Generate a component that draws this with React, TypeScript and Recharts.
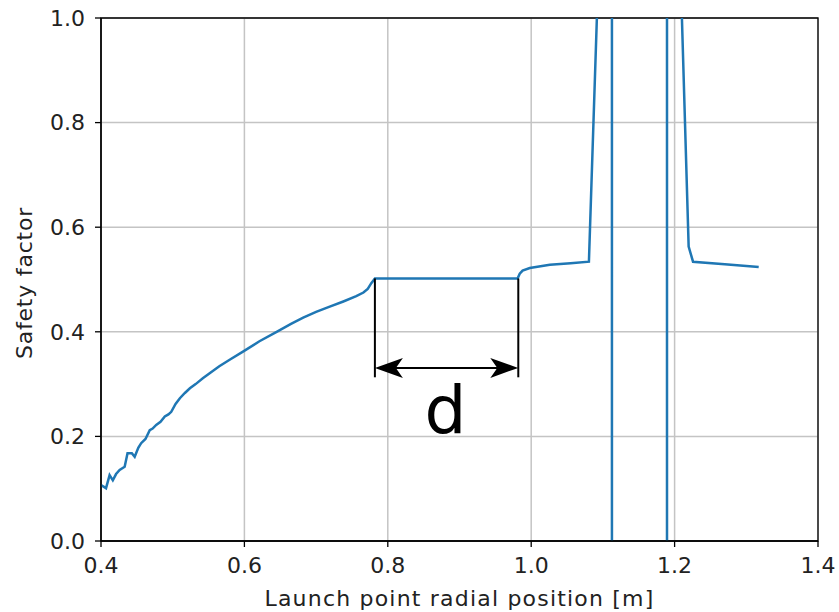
import React from "react";
import {
  LineChart,
  Line,
  XAxis,
  YAxis,
  CartesianGrid,
  ReferenceLine,
  ReferenceArea,
  ReferenceDot,
} from "recharts";

const radialPos = [
  0.4, 0.407, 0.412, 0.4165, 0.421, 0.426, 0.433, 0.437, 0.443, 0.447, 0.452, 0.456, 0.462, 0.468, 0.472,
  0.477, 0.483, 0.489, 0.494, 0.498, 0.504, 0.51, 0.517, 0.524, 0.532, 0.542, 0.553, 0.565, 0.58, 0.598,
  0.621, 0.645, 0.665, 0.682, 0.7, 0.719, 0.738, 0.756, 0.766, 0.772, 0.777, 0.782, 0.981, 0.984, 0.988,
  0.998, 1.026, 1.055, 1.0805, 1.0916, 1.1, 1.1125, 1.1127, 1.15, 1.1893, 1.1895, 1.2, 1.2102, 1.2196,
  1.2257, 1.27, 1.3173,
];
const safetyFactor = [
  0.107, 0.101, 0.126, 0.116, 0.128, 0.136, 0.142, 0.168, 0.168, 0.161, 0.178, 0.187, 0.195, 0.212, 0.215,
  0.222, 0.228, 0.238, 0.242, 0.247, 0.262, 0.273, 0.283, 0.292, 0.3, 0.311, 0.322, 0.334, 0.347, 0.362,
  0.382, 0.4, 0.415, 0.427, 0.438, 0.448, 0.458, 0.468, 0.475, 0.482, 0.493, 0.502, 0.502, 0.511, 0.517,
  0.522, 0.528, 0.531, 0.534, 1.0, 3, 60, -60, -3, -60, 60, 3, 1.0, 0.563, 0.534, 0.529, 0.524,
];

const xTicks = [0.4, 0.6, 0.8, 1.0, 1.2, 1.4];
const yTicks = [0, 0.2, 0.4, 0.6, 0.8, 1.0];

// "d" annotation, in data units
const dStart = 0.782;
const dEnd = 0.982;
const dTop = 0.502;
const dBottom = 0.313;
const arrowY = 0.331;
const dLabelPos = { x: 0.8804, y: 0.2065 };

const data = radialPos.map((x, i) => ({ x, y: safetyFactor[i] }));

const FONT = "DejaVu Sans, sans-serif";

const arrowShape = (p: any) => {
  const { x1, y1, x2 } = p;
  const y = y1;
  const l = Math.min(x1, x2);
  const r = Math.max(x1, x2);
  return (
    <g>
      <line x1={l + 14} y1={y} x2={r - 14} y2={y} stroke="#000" strokeWidth={2} />
      <path d={`M${l},${y} L${l + 28},${y - 10} L${l + 21},${y} L${l + 28},${y + 10} Z`} fill="#000" />
      <path d={`M${r},${y} L${r - 28},${y - 10} L${r - 21},${y} L${r - 28},${y + 10} Z`} fill="#000" />
    </g>
  );
};

export default function App() {
  return (
    <div style={{ position: "absolute", left: 0, top: 0, background: "#fff" }}>
      <LineChart width={839} height={612} data={data} margin={{ top: 18, right: 21, left: 0, bottom: 0 }}>
        <CartesianGrid stroke="#c4c4c4" strokeWidth={1.5} />
        <XAxis
          type="number"
          dataKey="x"
          domain={[0.4, 1.4]}
          ticks={xTicks}
          allowDataOverflow
          height={71}
          stroke="#000"
          strokeWidth={1.3}
          tickSize={6}
          tickMargin={10}
          tick={{ fill: "#222", fontSize: 22, fontFamily: FONT }}
          tickFormatter={(v: number) => v.toFixed(1)}
          label={{
            value: "Launch point radial position [m]",
            position: "insideBottom",
            offset: 6,
            fill: "#222",
            fontSize: 22,
            fontFamily: FONT,
            letterSpacing: 1.2,
          }}
        />
        <YAxis
          type="number"
          domain={[0, 1]}
          ticks={yTicks}
          allowDataOverflow
          width={101}
          stroke="#000"
          strokeWidth={1.3}
          tickSize={6}
          tickMargin={10}
          tick={{ fill: "#222", fontSize: 22, fontFamily: FONT }}
          tickFormatter={(v: number) => v.toFixed(1)}
          label={{
            content: () => (
              <text
                x={32}
                y={283}
                transform="rotate(-90 32 283)"
                textAnchor="middle"
                fill="#222"
                fontSize={22}
                fontFamily={FONT}
                letterSpacing={0.8}
              >
                Safety factor
              </text>
            ),
          }}
        />
        <ReferenceArea x1={0.4} x2={1.4} y1={0} y2={1} fill="none" stroke="#000" strokeWidth={1.3} />
        <Line
          type="linear"
          dataKey="y"
          stroke="#1f77b4"
          strokeWidth={2.5}
          dot={false}
          isAnimationActive={false}
        />
        <ReferenceLine
          segment={[
            { x: dStart, y: dTop },
            { x: dStart, y: dBottom },
          ]}
          stroke="#000"
          strokeWidth={2}
        />
        <ReferenceLine
          segment={[
            { x: dEnd, y: dTop },
            { x: dEnd, y: dBottom },
          ]}
          stroke="#000"
          strokeWidth={2}
        />
        <ReferenceLine
          segment={[
            { x: dStart, y: arrowY },
            { x: dEnd, y: arrowY },
          ]}
          shape={arrowShape}
        />
        <ReferenceDot
          x={dLabelPos.x}
          y={dLabelPos.y}
          r={0}
          shape={(p: any) => (
            <text x={p.cx} y={p.cy} textAnchor="middle" fontSize={66} fontFamily={FONT} fill="#000">
              d
            </text>
          )}
        />
      </LineChart>
    </div>
  );
}
